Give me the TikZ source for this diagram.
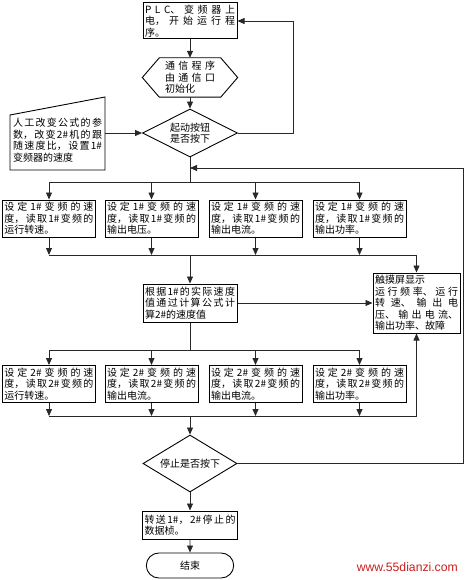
\documentclass[tikz,border=0pt]{standalone}
\usepackage{fontspec}
\setmainfont{Noto Sans CJK SC}
\newfontfamily\wmfont{Liberation Sans}
\usetikzlibrary{arrows.meta,shapes.geometric,shapes.misc,calc}
\XeTeXlinebreaklocale "zh"
\XeTeXlinebreakskip=0pt plus 10pt
\newcommand\lsp{\hskip 0pt plus 10pt\relax}
\definecolor{wmred}{RGB}{200,30,30}
\definecolor{ln}{RGB}{40,40,40}
\tikzset{
  txt/.style={font=\fontsize{10}{11.5}\selectfont},
  box/.style={txt, draw, line width=1pt, align=justify, inner xsep=2pt, inner ysep=1pt},
  rowbox/.style={box, text width=89pt, minimum height=37pt},
  dec/.style={txt, draw, line width=0.9pt, diamond, aspect=2, inner sep=0pt, align=center},
  shp/.style={draw, line width=0.9pt},
  line/.style={draw=ln, line width=0.8pt},
  arr/.style={line, -{Triangle[length=7pt,width=6pt]}},
}
\begin{document}
\tolerance=10000 \hbadness=10000 \parindent=0pt
\begin{tikzpicture}[x=1pt,y=-1pt]
\useasboundingbox (0,0) rectangle (465,580);

% main column
\node[box, text width=90pt, minimum height=36pt] (start) at (190,21)
  {P\lsp L\lsp C、变频器上\linebreak 电，开始运行程\linebreak 序。};
\node[txt, align=justify, text width=50pt, inner xsep=22.5pt, minimum height=39pt] (init) at (190,77.5)
  {通信程序\linebreak 由通信口\linebreak 初始化};
\draw[shp] ($(init.north west)+(17,0)$) -- ($(init.north east)+(-17,0)$) -- (init.east)
  -- ($(init.south east)+(-17,0)$) -- ($(init.south west)+(17,0)$) -- (init.west) -- cycle;
\node[dec, minimum width=95pt, minimum height=48pt] (press) at (190,133) {起动按钮\\是否按下};

% manual input
\node[txt, align=justify, text width=89pt, inner xsep=3pt, inner ysep=0pt] (man) at (57.5,140)
  {人工改变公式的参\linebreak 数，改变2\#机的跟\linebreak 随速度比，设置1\#\linebreak 变频器的速度};
\draw[shp] (10,115) -- (105,97) -- (105,170) -- (10,170) -- cycle;

% row 1
\node[rowbox] (r1a) at (49,218.5) {设定1\#变频的速\linebreak 度，读取1\#变频的\linebreak 运行转速。};
\node[rowbox] (r1b) at (151.5,218.5) {设定1\#变频的速\linebreak 度，读取1\#变频的\linebreak 输出电压。};
\node[rowbox] (r1c) at (255.5,218.5) {设定1\#变频的速\linebreak 度，读取1\#变频的\linebreak 输出电流。};
\node[rowbox] (r1d) at (359.5,218.5) {设定1\#变频的速\linebreak 度，读取1\#变频的\linebreak 输出功率。};

% calc and touch screen
\node[box, text width=90pt, minimum height=38pt] (calc) at (190,303)
  {根据1\#的实际速度\linebreak 值通过计算公式计\linebreak 算2\#的速度值};
\node[box, text width=83pt, minimum height=60pt] (touch) at (416.5,303)
  {触摸屏显示\\运行频率、运行\linebreak 转速、输出电\linebreak 压、输出电流、\linebreak 输出功率、故障};

% row 2
\node[rowbox] (r2a) at (49,384) {设定2\#变频的速\linebreak 度，读取2\#变频的\linebreak 运行转速。};
\node[rowbox] (r2b) at (151.5,384) {设定2\#变频的速\linebreak 度，读取2\#变频的\linebreak 输出电流。};
\node[rowbox] (r2c) at (255.5,384) {设定2\#变频的速\linebreak 度，读取2\#变频的\linebreak 输出电流。};
\node[rowbox] (r2d) at (359.5,384) {设定2\#变频的速\linebreak 度，读取2\#变频的\linebreak 输出功率。};

% bottom
\node[dec, minimum width=94pt, minimum height=57pt] (stop) at (190,463.5) {停止是否按下};
\node[box, text width=91pt, minimum height=28pt] (final) at (190,525)
  {转送1\#，2\#停止的\linebreak 数据桢。};
\node[txt, draw, line width=0.9pt, rounded rectangle, minimum width=94pt, minimum height=25pt] (end) at (190,565.5) {结束};
\node[font=\wmfont\fontsize{12.2}{13}\selectfont, text=wmred, anchor=east, inner sep=0pt] (wm) at (458,567) {www.55dianzi.com};

% coordinates
\coordinate (loopin) at (190,168);
\coordinate (split1) at (190,182);
\coordinate (merge1) at (190,255);
\coordinate (split2) at (190,350);
\coordinate (merge2) at (190,416);
\coordinate (rr) at (463,463.5);

% connectors
\draw[arr] (start) -- (init);
\draw[arr] (init) -- (press);
\draw[arr] (man.east |- press.west) -- (press.west);
\draw[arr] (press.east) -- ++(55,0) |- (start.east);
\draw[line] (press.south) -- (split1);
\draw[line] (split1 -| r1a) -- (split1 -| r1d);
\foreach \r in {r1a,r1b,r1c,r1d}{
  \draw[arr] (split1 -| \r) -- (\r.north);
  \draw[arr] (\r.south) -- (merge1 -| \r);
}
\draw[line] (merge1 -| r1a) -- (merge1 -| touch);
\draw[arr] (merge1 -| touch) -- (touch.north);
\draw[arr] (merge1) -- (calc.north);
\draw[arr] (calc.east) -- (touch.west);
\draw[line] (calc.south) -- (split2);
\draw[line] (split2 -| r2a) -- (split2 -| r2d);
\foreach \r in {r2a,r2b,r2c,r2d}{
  \draw[arr] (split2 -| \r) -- (\r.north);
  \draw[arr] (\r.south) -- (merge2 -| \r);
}
\draw[line] (merge2 -| r2a) -- (merge2 -| touch);
\draw[arr] (merge2 -| touch) -- (touch.south);
\draw[arr] (merge2) -- (stop.north);
\draw[arr] (stop.east) -- (rr) |- (loopin);
\draw[arr] (stop) -- (final);
\draw[arr] (final) -- (end);
\end{tikzpicture}
\end{document}
